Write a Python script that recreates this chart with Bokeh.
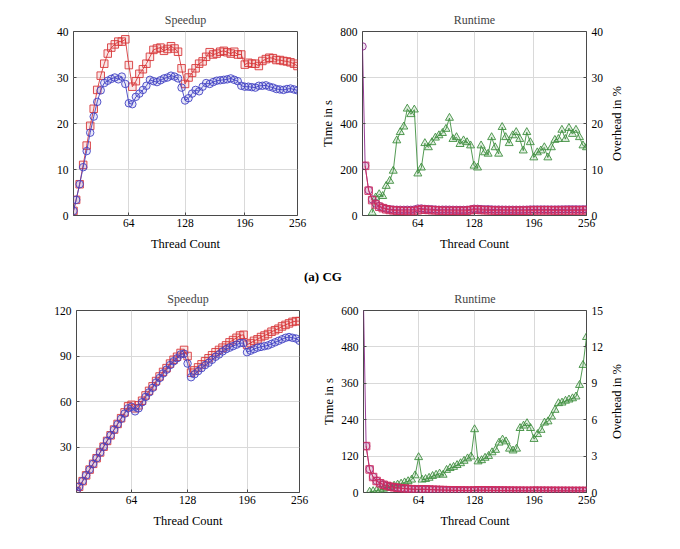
import math
from bokeh.plotting import figure
from bokeh.models import Range1d, LinearAxis, FixedTicker, Div
from bokeh.layouts import column, row
from bokeh.embed import file_html
from bokeh.resources import INLINE

# ---------------- data ----------------
threads = [1, 4, 8, 12, 16, 20, 24, 28, 32, 36, 40, 44, 48, 52, 56, 60, 64, 68, 72, 76,
           80, 84, 88, 92, 96, 100, 104, 108, 112, 116, 120, 124, 128, 132, 136, 140,
           144, 148, 152, 156, 160, 164, 168, 172, 176, 180, 184, 188, 192, 196, 200,
           204, 208, 212, 216, 220, 224, 228, 232, 236, 240, 244, 248, 252, 256]
threads_from4 = threads[1:]
threads_from8 = threads[2:]
threads_from12 = threads[3:]

x_ticks = [64, 128, 196, 256]

# (a) CG - speedup
cg_speedup_sq = [1.0, 3.4, 6.8, 11.0, 15.2, 19.5, 23.2, 27.3, 30.4, 33.0,
                 35.2, 36.5, 37.2, 37.8, 37.8, 38.3, 32.7, 28.0, 29.2, 30.8,
                 31.8, 33.0, 34.5, 36.0, 36.3, 36.5, 35.8, 36.2, 36.8, 36.3,
                 35.6, 32.0, 28.6, 30.0, 31.0, 32.0, 33.0, 33.5, 34.5, 35.5,
                 35.0, 35.2, 35.6, 35.8, 35.5, 35.2, 35.6, 35.0, 35.0, 32.8,
                 33.2, 33.0, 33.0, 32.5, 33.6, 34.0, 34.3, 34.2, 33.8, 33.8,
                 33.6, 33.5, 33.3, 33.0, 32.5]
cg_speedup_ci = [1.0, 3.4, 6.8, 10.5, 14.0, 18.0, 21.5, 24.7, 27.2, 28.8,
                 29.3, 29.7, 30.0, 29.6, 30.2, 28.6, 24.4, 24.2, 25.8, 26.5,
                 27.3, 28.2, 29.5, 29.2, 29.0, 29.4, 29.8, 30.0, 30.4, 30.2,
                 29.8, 27.8, 25.0, 25.5, 26.5, 27.3, 27.0, 28.0, 28.8, 28.6,
                 29.0, 29.3, 29.4, 29.5, 29.6, 29.8, 29.5, 29.2, 28.2, 28.0,
                 28.0, 27.9, 27.8, 28.2, 28.2, 28.3, 28.0, 27.8, 27.5, 27.4,
                 27.3, 27.5, 27.6, 27.4, 27.2]
cg_speedup_yticks = [0, 10, 20, 30, 40]

# (a) CG - runtime
cg_runtime_ci = [735, 216, 110, 70, 52, 41, 34, 30, 27, 25.5,
                 25, 24.7, 24.5, 24.8, 24.4, 25.7, 30, 30.4, 28.5, 27.7,
                 26.9, 26, 25, 25.2, 25.3, 25, 24.7, 24.5, 24.2, 24.3,
                 24.7, 26.4, 29.4, 28.8, 27.7, 26.9, 27.2, 26.3, 25.5, 25.7,
                 25.3, 25.1, 25, 24.9, 24.8, 24.7, 24.9, 25.2, 26.1, 26.3,
                 26.3, 26.3, 26.4, 26.1, 26.1, 26, 26.3, 26.4, 26.7, 26.8,
                 26.9, 26.7, 26.6, 26.8, 27.0]
cg_runtime_sq = [216, 108, 67, 48, 38, 32, 27, 24, 22.3, 20.9,
                 20.1, 19.8, 19.4, 19.4, 19.2, 22.5, 26.2, 25.2, 23.9, 23.1,
                 22.3, 21.3, 20.4, 20.2, 20.1, 20.5, 20.3, 20.0, 20.2, 20.6,
                 23, 25.7, 24.5, 23.7, 23, 22.3, 21.9, 21.3, 20.7, 21,
                 20.9, 20.6, 20.5, 20.7, 20.9, 20.6, 21, 21, 22.4, 22.1,
                 22.3, 22.3, 22.6, 21.9, 21.6, 21.4, 21.5, 21.7, 21.7, 21.9,
                 22, 22.1, 22.3, 22.6]
cg_overhead = [0.6, 3.9, 4.6, 4.2, 6.4, 7.5, 9.7, 16.3, 18.1, 19.3,
               23.2, 22.0, 23.0, 9.1, 10.4, 15.7, 14.8, 15.9, 16.9, 17.4,
               17.9, 18.8, 21.2, 16.6, 17.0, 15.5, 16.3, 15.9, 15.2, 10.8,
               10.4, 15.2, 13.7, 13.4, 17.0, 14.8, 13.4, 19.2, 17.0, 15.7,
               17.4, 18.1, 16.6, 14.1, 18.1, 15.9, 12.6, 13.7, 14.1, 14.8,
               12.6, 14.8, 16.4, 16.6, 18.6, 16.6, 19.0, 17.7, 18.6, 17.0,
               15.2, 14.8]
cg_time_yticks = [0, 200, 400, 600, 800]
cg_overhead_yticks = [0, 10, 20, 30, 40]

# second benchmark - speedup
b_speedup_sq = [1.0, 3.8, 7.5, 11.3, 15.1, 18.9, 22.6, 26.4, 30.2, 34.0,
                37.7, 41.5, 45.2, 49.0, 52.8, 56.8, 57.8, 55.5, 57.5, 60.5,
                64.0, 67.0, 70.0, 73.5, 76.5, 79.5, 82.0, 85.0, 87.5, 89.5,
                92.0, 94.0, 90.0, 79.0, 80.5, 82.5, 84.5, 86.5, 88.5, 90.5,
                92.5, 94.0, 95.5, 97.0, 99.0, 100.5, 102.0, 103.5, 104.0, 97.5,
                98.5, 100.0, 101.0, 102.5, 103.5, 104.5, 106.0, 107.0, 108.0, 109.5,
                110.5, 111.5, 112.5, 113.0, 113.0]
b_speedup_ci = [1.0, 3.8, 7.5, 11.3, 15.1, 18.9, 22.6, 26.4, 30.2, 34.0,
                37.7, 41.4, 45.0, 48.6, 52.0, 55.5, 56.5, 53.5, 55.5, 59.5,
                63.0, 66.0, 69.0, 72.5, 75.5, 78.5, 81.0, 84.0, 86.5, 88.5,
                91.0, 91.5, 85.0, 76.0, 78.0, 80.0, 82.0, 84.0, 85.5, 87.5,
                89.5, 91.0, 93.0, 94.5, 95.5, 96.5, 97.5, 98.5, 98.5, 92.5,
                93.5, 94.5, 95.5, 96.0, 96.5, 97.0, 98.0, 99.0, 100.0, 101.0,
                102.0, 102.5, 102.0, 101.5, 100.0]
b_speedup_yticks = [30, 60, 90, 120]

# second benchmark - runtime
b_runtime_ci = [620, 153, 77, 51.5, 38.5, 31, 25.8, 22, 19.3, 17.2,
                15.5, 14.1, 13, 12, 11.2, 10.5, 10.3, 11, 10.6, 9.9,
                9.3, 8.9, 8.5, 8.1, 7.8, 7.5, 7.2, 7, 6.8, 6.6,
                6.4, 6.4, 6.9, 7.7, 7.5, 7.3, 7.1, 7, 6.8, 6.7,
                6.5, 6.4, 6.3, 6.2, 6.1, 6.1, 6, 5.9, 5.9, 6.3,
                6.2, 6.1, 6.1, 6, 6, 5.9, 5.9, 5.8, 5.8, 5.7,
                5.7, 5.7, 5.7, 5.7, 5.8]
b_runtime_sq = [153, 76, 51, 38, 30.5, 25.5, 21.8, 19, 17, 15.3,
                13.9, 12.8, 11.8, 11, 10.2, 10.1, 10.6, 10.2, 9.6, 9.1,
                8.7, 8.3, 7.9, 7.6, 7.3, 7, 6.8, 6.6, 6.4, 6.2,
                6.1, 6.5, 7.4, 7.2, 7, 6.8, 6.6, 6.5, 6.3, 6.2,
                6.1, 5.9, 5.8, 5.7, 5.6, 5.5, 5.4, 5.4, 5.8, 5.7,
                5.6, 5.5, 5.4, 5.4, 5.3, 5.2, 5.2, 5.1, 5.1, 5.0,
                5.0, 4.9, 4.9, 4.9]
b_overhead = [0.05, 0.1, 0.15, 0.22, 0.3, 0.38, 0.46, 0.55, 0.64, 0.72,
              0.82, 0.92, 1.05, 1.4, 2.9, 1.05, 1.1, 1.2, 1.35, 1.45,
              1.55, 1.45, 1.85, 2.0, 2.1, 2.25, 2.4, 2.6, 2.8, 2.95,
              5.2, 2.55, 2.65, 2.85, 3.0, 3.3, 3.5, 4.1, 4.35, 4.2,
              3.6, 3.45, 3.6, 5.3, 5.5, 5.7, 5.3, 4.4, 4.8, 5.15,
              5.75, 5.85, 6.25, 6.8, 7.35, 7.4, 7.55, 7.65, 7.75, 7.9,
              8.85, 10.5, 12.8]
b_time_yticks = [0, 120, 240, 360, 480, 600]
b_overhead_yticks = [0, 3, 6, 9, 12, 15]

# ---------------- style ----------------
FONT = "Liberation Serif"
FS_LABEL = "12.5px"
FS_TICK = "11.5px"
FS_TITLE = "12px"
RED = "#d8383a"
BLUE = "#4343c4"
GREEN = "#3f8f3f"
PURPLE = "#8c2a8c"
CRIMSON = "#d02c5c"
GRID = "#d9d9d9"
BOX = "#4a4a4a"


def style_axis(ax):
    ax.axis_line_color = None
    ax.major_tick_in = 3
    ax.major_tick_out = 0
    ax.major_tick_line_color = BOX
    ax.minor_tick_line_color = None
    ax.major_label_text_font = FONT
    ax.major_label_text_font_size = FS_TICK
    ax.major_label_text_color = "black"
    ax.axis_label_text_font = FONT
    ax.axis_label_text_font_size = FS_LABEL
    ax.axis_label_text_font_style = "normal"
    ax.axis_label_text_color = "black"
    ax.major_label_standoff = 5
    ax.axis_label_standoff = 2


def base_fig(width, height, ml, mr, mt, mb, y_end, yticks, title):
    p = figure(width=width, height=height, output_backend="svg",
               toolbar_location=None, x_range=Range1d(1, 256),
               y_range=Range1d(0, y_end),
               min_border_left=ml, min_border_right=mr,
               min_border_top=mt, min_border_bottom=mb)
    p.title.text = title
    p.title.align = "center"
    p.title.text_font = FONT
    p.title.text_font_size = FS_TITLE
    p.title.text_font_style = "normal"
    p.outline_line_color = BOX
    p.outline_line_width = 1
    p.background_fill_color = "white"
    p.border_fill_alpha = 0
    p.xaxis.ticker = FixedTicker(ticks=x_ticks)
    p.yaxis.ticker = FixedTicker(ticks=yticks)
    p.xgrid.ticker = FixedTicker(ticks=x_ticks)
    p.ygrid.ticker = FixedTicker(ticks=yticks)
    for g in (p.xgrid, p.ygrid):
        g.grid_line_color = GRID
        g.grid_line_width = 1
    p.xaxis.axis_label = "Thread Count"
    for ax in (p.xaxis, p.yaxis):
        style_axis(ax)
    p.xaxis.major_label_standoff = 3
    p.xaxis.axis_label_standoff = 7
    return p


def speedup_fig(width, height, ml, mr, mt, mb, y_end, yticks, sq, ci):
    p = base_fig(width, height, ml, mr, mt, mb, y_end, yticks, "Speedup")
    p.line(threads, sq, color=RED, line_width=0.9)
    p.scatter(threads, sq, marker="square", size=7.5, line_color=RED,
              fill_color=RED, fill_alpha=0.12, line_width=0.9)
    p.line(threads, ci, color=BLUE, line_width=0.9)
    p.scatter(threads, ci, marker="circle", size=7.5, line_color=BLUE,
              fill_color=BLUE, fill_alpha=0.12, line_width=0.9)
    return p


def runtime_fig(width, height, ml, mr, mt, mb, y_end, yticks,
                ov_end, ovticks, ci, sq, ov, ov_x):
    p = base_fig(width, height, ml, mr, mt, mb, y_end, yticks, "Runtime")
    p.yaxis.axis_label = "Time in s"
    p.extra_y_ranges = {"ov": Range1d(0, ov_end)}
    rax = LinearAxis(y_range_name="ov", ticker=FixedTicker(ticks=ovticks))
    style_axis(rax)
    p.add_layout(rax, "right")
    p.line(ov_x, ov, color=GREEN, line_width=0.9, y_range_name="ov")
    p.scatter(ov_x, ov, marker="triangle", size=8, line_color=GREEN,
              fill_color=GREEN, fill_alpha=0.15, line_width=0.9,
              y_range_name="ov")
    p.line(threads, ci, color=PURPLE, line_width=0.9)
    p.scatter(threads, ci, marker="circle", size=7.5, line_color=PURPLE,
              fill_color=PURPLE, fill_alpha=0.12, line_width=0.9)
    p.line(threads_from4, sq, color=CRIMSON, line_width=0.9)
    p.scatter(threads_from4, sq, marker="square", size=7.5, line_color=CRIMSON,
              fill_color=CRIMSON, fill_alpha=0.12, line_width=0.9)
    return p


def label_strip(height, mt, mb, ov_end):
    """Narrow panel carrying the right-hand axis title, read bottom to top."""
    p = figure(width=30, height=height, output_backend="svg",
               toolbar_location=None, x_axis_location=None,
               x_range=Range1d(0, 1), y_range=Range1d(0, ov_end),
               min_border_left=16, min_border_right=0,
               min_border_top=mt, min_border_bottom=mb)
    p.outline_line_color = None
    p.background_fill_alpha = 0
    p.border_fill_alpha = 0
    p.grid.visible = False
    ax = p.yaxis[0]
    style_axis(ax)
    ax.ticker = FixedTicker(ticks=[])
    ax.major_tick_in = 0
    ax.axis_label = "Overhead in %"
    ax.axis_label_standoff = 6
    return p


pA = speedup_fig(315, 258, 73, 18, 31, 43, 40, cg_speedup_yticks,
                 cg_speedup_sq, cg_speedup_ci)
pB = runtime_fig(291, 258, 47, 20, 31, 43, 800, cg_time_yticks, 40,
                 cg_overhead_yticks, cg_runtime_ci, cg_runtime_sq,
                 cg_overhead, threads_from12)
lB = label_strip(258, 31, 43, 40)

caption = Div(text="<b>(a) CG</b>", width=646, height=20, margin=0,
              styles={"text-align": "center", "font-family": FONT,
                      "font-size": "13px", "line-height": "24px",
                      "padding-top": "7px", "color": "black"})

pC = speedup_fig(315, 262, 76, 16, 32, 48, 120, b_speedup_yticks,
                 b_speedup_sq, b_speedup_ci)
pD = runtime_fig(291, 262, 48, 20, 32, 48, 600, b_time_yticks, 15,
                 b_overhead_yticks, b_runtime_ci, b_runtime_sq,
                 b_overhead, threads_from8)
lD = label_strip(262, 32, 48, 15)

layout = column(row(pA, pB, lB), caption, row(pC, pD, lD))

open("out.html", "w").write(file_html(layout, INLINE))
